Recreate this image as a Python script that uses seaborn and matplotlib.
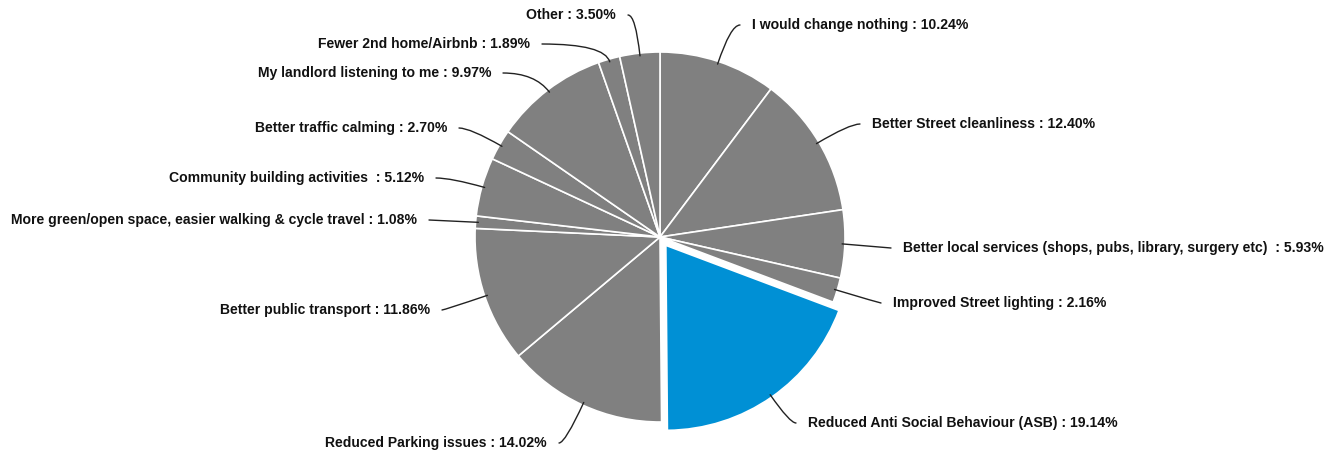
import numpy as np
import matplotlib
matplotlib.use("Agg")
import matplotlib.pyplot as plt
import seaborn as sns

categories = [
    "I would change nothing",
    "Better Street cleanliness",
    "Better local services (shops, pubs, library, surgery etc) ",
    "Improved Street lighting",
    "Reduced Anti Social Behaviour (ASB)",
    "Reduced Parking issues",
    "Better public transport",
    "More green/open space, easier walking & cycle travel",
    "Community building activities ",
    "Better traffic calming",
    "My landlord listening to me",
    "Fewer 2nd home/Airbnb",
    "Other",
]
values = [10.24, 12.40, 5.93, 2.16, 19.14, 14.02, 11.86, 1.08, 5.12, 2.70, 9.97, 1.89, 3.50]
highlight = "Reduced Anti Social Behaviour (ASB)"

# layout: label anchor positions in pixels (x, y from top) and alignment
label_px = [
    (752, 25, "left"), (872, 124, "left"), (903, 248, "left"), (893, 303, "left"),
    (808, 423, "left"), (547, 443, "right"), (430, 310, "right"), (417, 220, "right"),
    (424, 178, "right"), (447, 128, "right"), (491, 73, "right"), (530, 44, "right"),
    (616, 15, "right"),
]

sns.set_theme(style="white")
plt.rcParams["font.family"] = ["Liberation Sans", "DejaVu Sans"]

W, H = 1342, 454
CX, CY, R = 660, 237, 185
fig = plt.figure(figsize=(W / 100, H / 100), dpi=100)
ax = fig.add_axes([0, 0, 1, 1])

gray = "#808080"
blue = "#0090D5"
colors = [blue if c == highlight else gray for c in categories]
explode = [0.055 if c == highlight else 0 for c in categories]

wedges, _ = ax.pie(values, startangle=90, counterclock=False, colors=colors,
                   explode=explode, radius=1,
                   wedgeprops=dict(edgecolor="white", linewidth=1.2))

ax.set_xlim(-CX / R, (W - CX) / R)
ax.set_ylim((CY - H) / R, CY / R)
ax.set_aspect("auto")
ax.axis("off")

gap = 12 / R
for w, cat, val, (px, py, ha) in zip(wedges, categories, values, label_px):
    middeg = (w.theta1 + w.theta2) / 2
    mid = np.deg2rad(middeg)
    cx, cy = w.center
    xy = (cx + 0.985 * np.cos(mid), cy + 0.985 * np.sin(mid))
    tx = (px - CX) / R
    ty = (CY - py) / R
    side = 1 if ha == "left" else -1
    end = (tx - side * gap, ty)
    if abs(np.sin(mid)) < 0.2:
        cs = "arc3,rad=0"
    else:
        cs = f"angle3,angleA=0,angleB={middeg % 180:.1f}"
    ax.annotate("", xy=xy, xytext=end,
                arrowprops=dict(arrowstyle="-", color="#222222", lw=1.0,
                                shrinkA=0, shrinkB=0, connectionstyle=cs))
    ax.text(tx, ty, f"{cat} : {val:.2f}%", ha=ha, va="center", fontsize=10.1,
            fontweight="bold", color="#111111")

fig.savefig("out.png", dpi=100, facecolor="white")
